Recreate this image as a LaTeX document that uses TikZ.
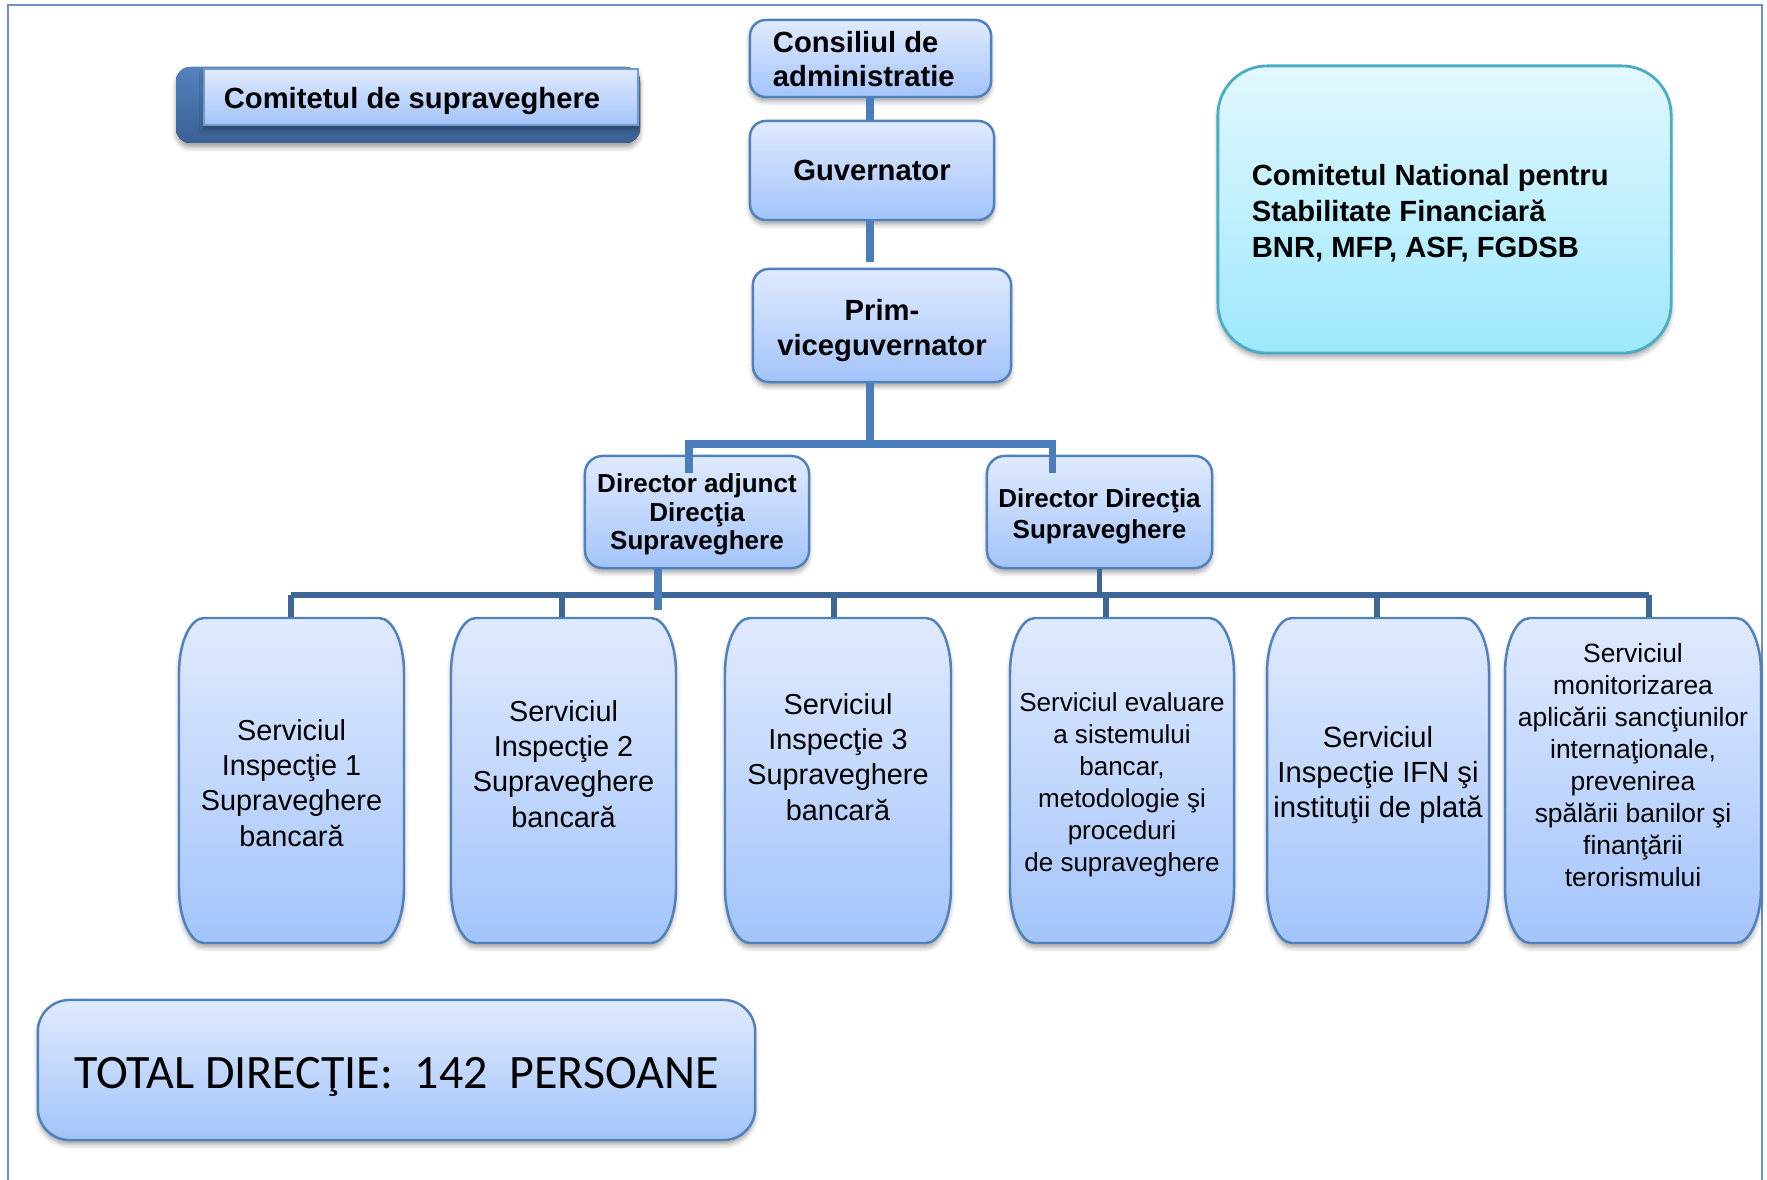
\documentclass[tikz,border=0pt]{standalone}
\usepackage{fontspec}
\setmainfont{Liberation Sans}
\newfontfamily\calibfont{Carlito}
\usetikzlibrary{shadows,shadows.blur,calc}
\definecolor{bxtop}{RGB}{224,234,254}
\definecolor{bxbot}{RGB}{163,196,250}
\definecolor{bxline}{RGB}{79,129,189}
\definecolor{connc}{RGB}{74,126,187}
\definecolor{busc}{RGB}{62,103,151}
\definecolor{cyt}{RGB}{226,248,254}
\definecolor{cyb}{RGB}{158,232,252}
\definecolor{cyl}{RGB}{75,172,198}
\definecolor{frm}{RGB}{110,143,200}
\definecolor{dka}{RGB}{84,130,190}
\definecolor{dkb}{RGB}{58,96,148}
\newcommand\fTop{\fontsize{8.3}{9.7}\selectfont\bfseries}
\newcommand\fPrim{\fontsize{8.3}{10}\selectfont\bfseries}
\newcommand\fDir{\fontsize{7.4}{8.2}\selectfont\bfseries}
\newcommand\fDirB{\fontsize{7.4}{8.8}\selectfont\bfseries}
\newcommand\fCn{\fontsize{8.3}{10.2}\selectfont\bfseries}
\newcommand\fSa{\fontsize{8.2}{10}\selectfont}
\newcommand\fSb{\fontsize{7.4}{9.1}\selectfont}
\newcommand\fSc{\fontsize{8.3}{10}\selectfont}
\newcommand\fSd{\fontsize{7.5}{9.1}\selectfont}
\newcommand\fTot{\calibfont\fontsize{13.65}{16}\selectfont}
\newcommand\lowr[2]{\raisebox{#1}[\height][\depth]{#2}}
\newcommand\txc[2]{\lowr{#1}{\begin{tabular}{@{}c@{}}#2\end{tabular}}}
\newcommand\txl[3]{\lowr{#1}{\makebox[#2][l]{\begin{tabular}{@{}l@{}}#3\end{tabular}}}}
\newcommand\svcbox[4]{%
  \draw[svcshape] (#1,#2+55) .. controls (#1,#2+25) and (#1+11,#2) .. (#1+25,#2)
   -- (#3-25,#2) .. controls (#3-11,#2) and (#3,#2+25) .. (#3,#2+55)
   -- (#3,#4-55) .. controls (#3,#4-25) and (#3-11,#4) .. (#3-25,#4)
   -- (#1+25,#4) .. controls (#1+11,#4) and (#1,#4-25) .. (#1,#4-55) -- cycle;}
\begin{document}
\begin{tikzpicture}[x=0.01cm,y=-0.01cm,
  shad/.style={blur shadow={shadow xshift=0pt,shadow yshift=-1.3pt,shadow blur radius=1.3pt,shadow opacity=35}},
  bluebox/.style={draw=bxline,line width=0.7pt,top color=bxtop,bottom color=bxbot,rounded corners=4.5pt,shad,inner sep=0pt,align=center},
  svcshape/.style={draw=bxline,line width=0.7pt,top color=bxtop,bottom color=bxbot,shad},
  anchorbox/.style={inner sep=0pt,draw=none},
  svctext/.style={align=center,inner sep=0pt},
  connline/.style={draw=connc,line width=2pt,line join=miter},
  busline/.style={draw=busc,line width=1.5pt,line join=miter},
  frameline/.style={draw=frm,line width=0.6pt}
]
\useasboundingbox (0,0) rectangle (1767,1180);
\draw[frameline] (8,1180) -- (8,5) -- (1762,5) -- (1762,1180);

% Comitetul de supraveghere
\fill[top color=dka,bottom color=dkb,rounded corners=4pt,shad] (176,67) rectangle (640,143);
\node[draw=bxline!80,line width=0.5pt,top color=bxtop,bottom color=bxbot,shad,inner sep=0pt,
  minimum width=4.34cm,minimum height=0.56cm,font=\fTop] (supr) at (421,97) {\hspace*{-0.18cm}\lowr{-0.045cm}{Comitetul de supraveghere}};

% top chain
\node[bluebox,minimum width=2.41cm,minimum height=0.77cm,font=\fTop] (cons) at (870.5,58.5) {\txl{-0.04cm}{1.95cm}{Consiliul de\\administratie}};
\node[bluebox,minimum width=2.44cm,minimum height=0.99cm,font=\fTop] (guv) at (872,170.5) {Guvernator};
\node[bluebox,minimum width=2.58cm,minimum height=1.13cm,font=\fPrim] (prim) at (882,325.5) {\txc{-0.055cm}{Prim-\\viceguvernator}};

% directors
\node[bluebox,rounded corners=5pt,minimum width=2.24cm,minimum height=1.12cm,font=\fDir] (dadj) at (697,512) {\txc{-0.034cm}{Director adjunct\\Direcţia\\Supraveghere}};
\node[bluebox,rounded corners=5pt,minimum width=2.25cm,minimum height=1.12cm,font=\fDirB] (ddir) at (1099.5,512) {\txc{-0.045cm}{Director Direcţia\\Supraveghere}};

% Comitetul National
\node[draw=cyl,line width=0.8pt,top color=cyt,bottom color=cyb,rounded corners=14pt,shad,inner sep=0pt,
  minimum width=4.53cm,minimum height=2.87cm,font=\fCn] (cnsf) at (1444.5,209.5)
  {\txl{-0.045cm}{3.85cm}{Comitetul National pentru\\Stabilitate Financiară\\BNR, MFP, ASF, FGDSB}};

% service boxes
\svcbox{179}{618}{404}{943}
\svcbox{451}{618}{676}{943}
\svcbox{725}{618}{951}{943}
\svcbox{1010}{618}{1234}{943}
\svcbox{1267}{618}{1489}{943}
\svcbox{1505}{618}{1761}{943}
\node[anchorbox,minimum width=2.25cm,minimum height=3.25cm] (s1) at (291.5,780.5) {};
\node[anchorbox,minimum width=2.25cm,minimum height=3.25cm] (s2) at (563.5,780.5) {};
\node[anchorbox,minimum width=2.26cm,minimum height=3.25cm] (s3) at (838,780.5) {};
\node[anchorbox,minimum width=2.24cm,minimum height=3.25cm] (s4) at (1122,780.5) {};
\node[anchorbox,minimum width=2.22cm,minimum height=3.25cm] (s5) at (1378,780.5) {};
\node[anchorbox,minimum width=2.56cm,minimum height=3.25cm] (s6) at (1633,780.5) {};
\node[svctext,font=\fSa] (s1t) at (291.5,783) {Serviciul\\Inspecţie 1\\Supraveghere\\bancară};
\node[svctext,font=\fSa] (s2t) at (563.5,764) {Serviciul\\Inspecţie 2\\Supraveghere\\bancară};
\node[svctext,font=\fSa] (s3t) at (838,757) {Serviciul\\Inspecţie 3\\Supraveghere\\bancară};
\node[svctext,font=\fSb] (s4t) at (1122,785) {Serviciul evaluare\\a sistemului\\bancar,\\metodologie şi\\proceduri\\de supraveghere};
\node[svctext,font=\fSc] (s5t) at (1378,775) {Serviciul\\Inspecţie IFN şi\\instituţii de plată};
\node[svctext,font=\fSd] (s6t) at (1633,765) {Serviciul\\monitorizarea\\aplicării sancţiunilor\\internaţionale,\\prevenirea\\spălării banilor şi\\finanţării\\terorismului};

% total
\node[bluebox,rounded corners=9pt,minimum width=7.17cm,minimum height=1.40cm,font=\fTot] (tot) at (396.5,1070)
  {\lowr{-0.07cm}{TOTAL DIRECŢIE:\ \ 142\ \ PERSOANE}};

% connectors (upper)
\coordinate (busTop) at (870,444);
\coordinate (dL) at (689,473);
\coordinate (dR) at (1052,473);
\draw[connline] (cons.south -| busTop) -- (guv.north -| busTop);
\draw[connline,shorten >=1.7pt] (guv.south -| busTop) -- (prim.north -| busTop);
\draw[connline] (prim.south -| busTop) -- (busTop);
\draw[connline] (dL) -- (dL |- busTop) -- (dR |- busTop) -- (dR);

% connectors (lower bus)
\coordinate (b1) at (291,595);
\coordinate (b2) at (562,595);
\coordinate (b3) at (834,595);
\coordinate (b4) at (1106,595);
\coordinate (b5) at (1377,595);
\coordinate (b6) at (1649,595);
\draw[busline] (b1) -- (b6);
\draw[busline] (ddir.south) -- (ddir.south |- b1);
\foreach \i in {1,...,6} { \draw[busline] (b\i) -- (b\i |- s\i.north); }
\coordinate (dA) at (658,610);
\draw[connline] (dA |- dadj.south) -- (dA);
\end{tikzpicture}
\end{document}
